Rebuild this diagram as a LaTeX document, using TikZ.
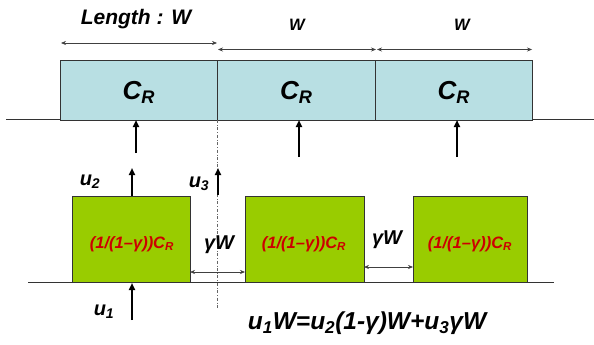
\documentclass[tikz,border=0pt]{standalone}
\usepackage{fontspec}
\setmainfont{Liberation Sans}
\usetikzlibrary{arrows.meta}
\definecolor{topfill}{RGB}{184,223,227}
\definecolor{grnfill}{RGB}{153,204,0}
\definecolor{redtxt}{RGB}{204,0,0}
\tikzset{
  topbox/.style={draw=black!80,line width=0.8pt,fill=topfill,minimum height=59.5pt,inner sep=0pt,anchor=north west},
  grnbox/.style={draw=black!80,line width=0.8pt,fill=grnfill,inner sep=0pt,anchor=north west},
  ground/.style={draw=black!80,line width=0.8pt},
  flow/.style={-{Triangle[length=7pt,width=6pt]},line width=1.8pt},
  dim/.style={{Stealth[length=5pt,width=4pt]}-{Stealth[length=5pt,width=4pt]},line width=0.6pt,draw=black!75},
  lbl/.style={font=\bfseries\itshape,inner sep=0pt},
  redlbl/.style={font=\fontsize{16.5}{18}\selectfont\bfseries\itshape,text=redtxt,inner sep=0pt},
}
\begin{document}
\begin{tikzpicture}[x=1pt,y=-1pt]
\useasboundingbox (0,0) rectangle (594,345);
% top row
\draw[ground] (6,119.5) coordinate (tl) -- (594,119.5) coordinate (tr);
\node[topbox,minimum width=157pt] (T1) at (60,60) {};
\node[topbox,minimum width=158pt] (T2) at (217,60) {};
\node[topbox,minimum width=157pt] (T3) at (375,60) {};
\foreach \i in {1,2,3}{
  \node[lbl,font=\fontsize{26}{28}\selectfont\bfseries\itshape] (C\i) at ([yshift=-2pt]T\i.center) {C\textsubscript{R}};
}
% dimension arrows
\coordinate (d1a) at (61,43); \coordinate (d1b) at (217,43);
\coordinate (d2a) at (218,49.5); \coordinate (d2b) at (376,49.5);
\coordinate (d3a) at (377,49.5); \coordinate (d3b) at (532,49.5);
\draw[dim] (d1a) -- (d1b);
\draw[dim] (d2a) -- (d2b);
\draw[dim] (d3a) -- (d3b);
\node[lbl,font=\fontsize{21}{23}\selectfont\bfseries\itshape] (len) at (136,19) {Length : W};
\node[lbl,font=\fontsize{16.5}{18}\selectfont\bfseries\itshape] (w2) at (297,25) {W};
\node[lbl,font=\fontsize{16.5}{18}\selectfont\bfseries\itshape] (w3) at (462,25) {W};
% arrows under top boxes
\coordinate (a1) at (136,153); \coordinate (b1) at (136,120);
\coordinate (a2) at (299,157); \coordinate (b2) at (299,120);
\coordinate (a3) at (457,157); \coordinate (b3) at (457,120);
\draw[flow] (a1) -- (b1);
\draw[flow] (a2) -- (b2);
\draw[flow] (a3) -- (b3);
% dotted divider
\coordinate (v1) at (217,120); \coordinate (v2) at (217,308);
\draw[dash dot,line width=0.6pt,black!60] (v1) -- (v2);
% bottom row
\draw[ground] (28,282) coordinate (bl) -- (554,282) coordinate (br);
\node[grnbox,minimum width=118pt,minimum height=86pt] (G1) at (72,196) {};
\node[grnbox,minimum width=119pt,minimum height=86pt] (G2) at (245,196) {};
\node[grnbox,minimum width=114pt,minimum height=86pt] (G3) at (413,196) {};
\node[redlbl] (r1) at (132,244) {(1/(1–γ))C\textsubscript{R}};
\node[redlbl] (r2) at (304,244) {(1/(1–γ))C\textsubscript{R}};
\node[redlbl] (r3) at (470,244) {(1/(1–γ))C\textsubscript{R}};
% gap dimensions
\coordinate (g1a) at (190,272); \coordinate (g1b) at (245,272);
\coordinate (g2a) at (364,267); \coordinate (g2b) at (413,267);
\draw[dim] (g1a) -- (g1b);
\draw[dim] (g2a) -- (g2b);
\node[lbl,font=\fontsize{20}{22}\selectfont\bfseries\itshape] (gw1) at (219,245) {γW};
\node[lbl,font=\fontsize{20}{22}\selectfont\bfseries\itshape] (gw2) at (387,240) {γW};
% flows u1 u2 u3
\coordinate (u2a) at (132,196); \coordinate (u2b) at (132,168);
\coordinate (u3a) at (218,195); \coordinate (u3b) at (218,168);
\coordinate (u1a) at (132,320); \coordinate (u1b) at (132,283);
\draw[flow] (u2a) -- (u2b);
\draw[flow] (u3a) -- (u3b);
\draw[flow] (u1a) -- (u1b);
\node[lbl,font=\fontsize{20}{22}\selectfont\bfseries\itshape] (lu2) at (90,182) {u\textsubscript{2}};
\node[lbl,font=\fontsize{20}{22}\selectfont\bfseries\itshape] (lu3) at (199,184) {u\textsubscript{3}};
\node[lbl,font=\fontsize{20}{22}\selectfont\bfseries\itshape] (lu1) at (104,312) {u\textsubscript{1}};
\node[lbl,font=\fontsize{24.5}{27}\selectfont\bfseries\itshape] (eq) at (367,323) {u\textsubscript{1}W=u\textsubscript{2}(1-γ)W+u\textsubscript{3}γW};
\end{tikzpicture}
\end{document}
